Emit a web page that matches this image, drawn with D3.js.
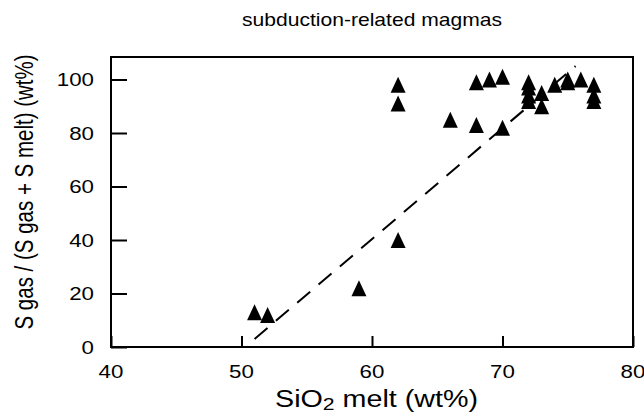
<!DOCTYPE html>
<html>
<head>
<meta charset="utf-8">
<script src="https://cdn.jsdelivr.net/npm/d3@7"></script>
<style>
  body { margin: 0; background: #fff; }
  text { font-family: "Liberation Sans", Arial, sans-serif; fill: #000; }
</style>
</head>
<body>
<svg width="644" height="414"></svg>
<script>
// SiO2 melt (wt%)
var sio2 = [51, 52, 59, 62, 62, 62, 66, 68, 70, 68, 69, 70,
            72, 72, 72, 72, 73, 73, 74, 75, 75, 76, 77, 77, 77];
// S gas / (S gas + S melt) (wt%)
var sgas = [12, 11, 21, 97, 90, 39, 84, 82, 81, 98, 99, 100,
            98, 96, 93, 91, 94, 89, 97, 98, 99, 99, 97, 93, 91];
// dashed trend line end points
var trendX = [51, 75.6];
var trendY = [3, 105];

var xTicks = [40, 50, 60, 70, 80];
var yTicks = [0, 20, 40, 60, 80, 100];

// the scanned figure is a bit wider than tall, tick text is stretched too
var stretch = 1.24;

var mLeft = 111, mRight = 633, mTop = 57, mBottom = 347;

var svg = d3.select("svg");

var scX = d3.scaleLinear().domain([40, 80]).range([mLeft, mRight]);
var scY = d3.scaleLinear().domain([0, 100]).range([mBottom, 79.5]);

// frame
svg.append("rect")
    .attr("x", mLeft).attr("y", mTop)
    .attr("width", mRight - mLeft).attr("height", mBottom - mTop)
    .attr("fill", "none").attr("stroke", "#000").attr("stroke-width", 2);

// inward ticks, labels drawn separately
var xAxis = d3.axisBottom(scX).tickValues(xTicks).tickSize(-11).tickFormat("");
svg.append("g").attr("transform", "translate(0," + mBottom + ")")
    .call(xAxis)
    .call(g => g.select(".domain").remove())
    .selectAll("line").attr("stroke-width", 2);

var yAxis = d3.axisLeft(scY).tickValues(yTicks).tickSize(-16).tickFormat("");
svg.append("g").attr("transform", "translate(" + mLeft + ",0)")
    .call(yAxis)
    .call(g => g.select(".domain").remove())
    .selectAll("line").attr("stroke-width", 2);

svg.append("g").selectAll("text")
    .data(xTicks).enter().append("text")
    .attr("transform", d => "translate(" + scX(d) + ",378) scale(" + stretch + ",1)")
    .attr("text-anchor", "middle")
    .attr("font-size", 18)
    .text(d => d);

svg.append("g").selectAll("text")
    .data(yTicks).enter().append("text")
    .attr("transform", d => "translate(94," + (scY(d) + 6.5) + ") scale(" + stretch + ",1)")
    .attr("text-anchor", "end")
    .attr("font-size", 18)
    .text(d => d);

// dashed trend
var lineMaker = d3.line().x(d => scX(d[0])).y(d => scY(d[1]));
svg.append("path")
    .attr("d", lineMaker(d3.zip(trendX, trendY)))
    .attr("fill", "none").attr("stroke", "#000")
    .attr("stroke-width", 2).attr("stroke-dasharray", "17,11");

// triangles
var tri = {
    draw: function (ctx, size) {
        var w = 15, h = 16;
        ctx.moveTo(0, -h * 2 / 3);
        ctx.lineTo(w / 2, h / 3);
        ctx.lineTo(-w / 2, h / 3);
        ctx.closePath();
    }
};
svg.append("g").selectAll("path")
    .data(d3.zip(sio2, sgas)).enter().append("path")
    .attr("d", d3.symbol().type(tri))
    .attr("transform", d => "translate(" + scX(d[0]) + "," + scY(d[1]) + ")")
    .attr("fill", "#000");

// titles
svg.append("text")
    .attr("x", 372).attr("y", 26)
    .attr("text-anchor", "middle").attr("font-size", 19)
    .attr("textLength", 260).attr("lengthAdjust", "spacingAndGlyphs")
    .text("subduction-related magmas");

var xt = svg.append("text")
    .attr("x", 275).attr("y", 407)
    .attr("font-size", 23)
    .attr("textLength", 203).attr("lengthAdjust", "spacingAndGlyphs");
xt.append("tspan").text("SiO");
xt.append("tspan").attr("font-size", 17).attr("dy", 3).text("2");
xt.append("tspan").attr("dy", -3).text(" melt (wt%)");

svg.append("text")
    .attr("transform", "translate(33,192) rotate(-90) scale(1,1.3)")
    .attr("text-anchor", "middle").attr("font-size", 20.5)
    .text("S gas / (S gas + S melt) (wt%)");
</script>
</body>
</html>
